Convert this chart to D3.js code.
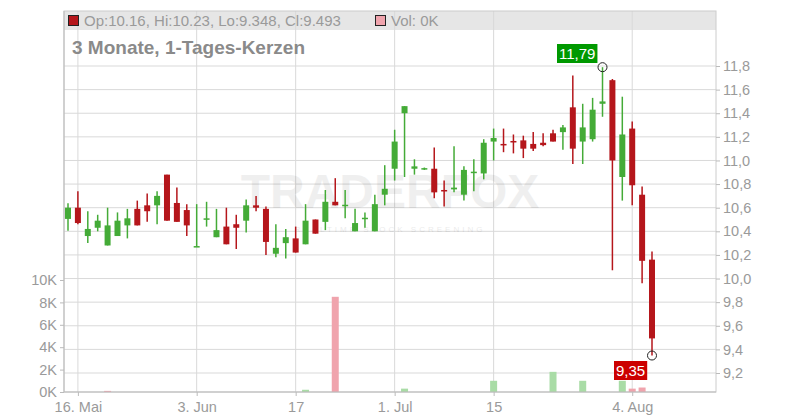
<!DOCTYPE html>
<html><head><meta charset="utf-8">
<script src="https://cdn.jsdelivr.net/npm/d3@7"></script>
<style>body{margin:0;background:#fff}text{font-family:"Liberation Sans",Arial,sans-serif}</style>
</head><body><svg id="c" width="800" height="420"></svg>
<script>
const opens  = [10.505,10.60,10.36,10.43,10.28,10.36,10.45,10.59,10.62,10.62,10.88,10.64,10.58,10.27,10.50,10.35,10.44,10.46,10.49,10.62,10.59,10.21,10.30,10.34,10.29,10.50,10.48,10.65,10.62,10.40,10.51,10.40,10.71,10.93,11.40,10.93,10.93,10.93,10.75,10.755,10.71,10.90,10.89,11.16,11.14,11.165,11.17,11.14,11.15,11.23,11.24,11.45,11.16,11.18,11.48,11.68,10.86,11.27,10.71,10.16];
const highs  = [10.637,10.74,10.57,10.54,10.60,10.56,10.59,10.66,10.72,10.74,10.88,10.77,10.63,10.63,10.65,10.59,10.60,10.54,10.67,10.70,10.61,10.46,10.42,10.44,10.63,10.50,10.75,10.85,10.75,10.59,10.56,10.71,10.96,11.26,11.46,11.01,10.94,11.11,10.83,11.12,10.95,11.01,11.18,11.27,11.27,11.22,11.21,11.24,11.23,11.26,11.30,11.72,11.48,11.53,11.79,11.69,11.54,11.33,10.78,10.23];
const lows   = [10.405,10.46,10.30,10.40,10.28,10.36,10.34,10.45,10.48,10.46,10.49,10.48,10.36,10.27,10.44,10.35,10.29,10.25,10.39,10.57,10.20,10.18,10.17,10.22,10.29,10.38,10.41,10.62,10.51,10.40,10.43,10.40,10.62,10.83,10.86,10.88,10.92,10.68,10.61,10.73,10.66,10.74,10.84,11.00,11.07,11.06,11.02,11.08,11.12,11.16,11.09,10.97,10.97,11.16,11.37,10.07,10.66,10.62,9.96,9.348];
const closes = [10.60,10.47,10.42,10.49,10.45,10.49,10.51,10.45,10.57,10.70,10.49,10.48,10.45,10.275,10.51,10.41,10.29,10.43,10.62,10.60,10.31,10.26,10.35,10.22,10.49,10.38,10.65,10.62,10.625,10.47,10.515,10.63,10.76,11.16,11.46,10.95,10.935,10.73,10.74,10.77,10.92,10.905,11.15,11.19,11.13,11.155,11.10,11.10,11.13,11.16,11.28,11.10,11.28,11.43,11.50,11.00,11.22,10.79,10.15,9.493];
const volumes = [0,0,0,0,0.1,0,0,0,0,0,0,0,0,0,0,0,0,0,0,0,0,0,0,0,0.2,0,0,8.5,0,0,0,0,0,0,0.3,0,0,0,0,0,0,0,0,1.0,0,0,0,0,0,1.8,0,0,1.0,0,0,0,1.0,0.3,0.4,0];
const xTickIdx = [1,13,23,33,43,57];
const xTickLabels = ["16. Mai","3. Jun","17","1. Jul","15","4. Aug"];
const priceTicks = [9.2,9.4,9.6,9.8,10.0,10.2,10.4,10.6,10.8,11.0,11.2,11.4,11.6,11.8];
const volTicks = [0,2,4,6,8,10];

const svg = d3.select("#c");
const L=64,R=716,T=11,B=392;
const x = d3.scaleLinear().domain([0,59]).range([68,652]);
const y = d3.scaleLinear().domain([9.2,11.8]).range([373,66]);
const yv = d3.scaleLinear().domain([0,10]).range([392,280]);
const GREEN="#44ab37", RED="#b5161b", grid="#d9d9d9", txt="#9a9a9a";

svg.append("rect").attr("x",L).attr("y",T).attr("width",R-L).attr("height",19).attr("fill","#e6e6e6");
svg.append("g").selectAll("line").data(priceTicks).join("line")
 .attr("x1",L).attr("x2",R).attr("y1",d=>y(d)).attr("y2",d=>y(d)).attr("stroke",grid);
svg.append("g").selectAll("line").data(xTickIdx).join("line")
 .attr("x1",d=>x(d)).attr("x2",d=>x(d)).attr("y1",T).attr("y2",B).attr("stroke",grid);
svg.append("rect").attr("x",L).attr("y",T).attr("width",R-L).attr("height",B-T).attr("fill","none").attr("stroke","#cccccc");

// watermark
svg.append("text").attr("x",390).attr("y",208).attr("text-anchor","middle").attr("font-size",48).attr("font-weight","bold")
 .attr("fill","#000").attr("opacity",0.06).text("TRADERFOX");
svg.append("text").attr("x",390).attr("y",232).attr("text-anchor","middle").attr("font-size",8).attr("letter-spacing",3)
 .attr("fill","#000").attr("opacity",0.08).text("REALTIME STOCK SCREENING");

const vd = volumes.map((v,i)=>({v,i})).filter(d=>d.v>0);
svg.append("g").selectAll("rect").data(vd).join("rect")
 .attr("x",d=>x(d.i)-3.5).attr("width",7).attr("y",d=>yv(d.v)).attr("height",d=>yv(0)-yv(d.v))
 .attr("fill",d=>(d.i>0&&closes[d.i]<closes[d.i-1])?"#f0a4ad":"#a9dca6");

const cd = opens.map((o,i)=>({i,o,h:highs[i],l:lows[i],c:closes[i]}));
const g = svg.append("g");
g.selectAll("line").data(cd).join("line")
 .attr("x1",d=>x(d.i)).attr("x2",d=>x(d.i)).attr("y1",d=>y(d.h)).attr("y2",d=>y(d.l))
 .attr("stroke",d=>d.c>=d.o?GREEN:RED).attr("stroke-width",1.5);
g.selectAll("rect").data(cd).join("rect")
 .attr("x",d=>x(d.i)-3).attr("width",6)
 .attr("y",d=>y(Math.max(d.o,d.c))).attr("height",d=>Math.max(1.5,Math.abs(y(d.o)-y(d.c))))
 .attr("fill",d=>d.c>=d.o?GREEN:RED);

const ra = svg.append("g").attr("transform",`translate(${R},0)`)
 .call(d3.axisRight(y).tickValues(priceTicks).tickSize(4).tickFormat(d=>d3.format(".1f")(d).replace(".",",")));
const la = svg.append("g").attr("transform",`translate(${L},0)`)
 .call(d3.axisLeft(yv).tickValues(volTicks).tickSize(4).tickFormat(d=>d+"K"));
const ba = svg.append("g").attr("transform",`translate(0,${B})`)
 .call(d3.axisBottom(x).tickValues(xTickIdx).tickSize(4).tickFormat((d,i)=>xTickLabels[i]));
[ra,la,ba].forEach(a=>{a.select(".domain").remove();a.selectAll("line").attr("stroke","#bbb");
 a.selectAll("text").attr("fill",txt).attr("font-size",14.5).attr("font-family","Liberation Sans, Arial");});
ba.selectAll("text").attr("dy","0.9em");
svg.append("line").attr("x1",L).attr("x2",R).attr("y1",B).attr("y2",B).attr("stroke","#bbb");
svg.append("line").attr("x1",L).attr("x2",L).attr("y1",T).attr("y2",B).attr("stroke","#bbb");

svg.append("rect").attr("x",68.5).attr("y",15.5).attr("width",10).attr("height",10).attr("fill",RED).attr("stroke","#222");
svg.append("text").attr("x",84).attr("y",26).attr("font-size",15).attr("fill",txt)
 .text(`Op:${opens[59]}, Hi:${highs[59]}, Lo:${lows[59]}, Cl:${closes[59]}`);
svg.append("rect").attr("x",375.5).attr("y",15.5).attr("width",10).attr("height",10).attr("fill","#f0a4ad").attr("stroke","#222");
svg.append("text").attr("x",391).attr("y",26).attr("font-size",15).attr("fill",txt).text(`Vol: ${volumes[59]}K`);
svg.append("text").attr("x",72).attr("y",54).attr("font-size",19).attr("font-weight","bold").attr("fill","#8a8a8a").text("3 Monate, 1-Tages-Kerzen");

function marker(i,v,label,col,lx,ly){
  svg.append("circle").attr("cx",x(i)).attr("cy",y(v)).attr("r",4.5).attr("fill","none").attr("stroke","#222");
  const mg = svg.append("g");
  const r = mg.append("rect").attr("fill",col);
  const t = mg.append("text").attr("x",lx).attr("y",ly).attr("font-size",15).attr("fill","#fff").text(label);
  const bb=t.node().getBBox();
  r.attr("x",bb.x-2).attr("y",bb.y-1).attr("width",bb.width+4).attr("height",bb.height+2);
}
marker(54,11.79,"11,79","#009900",559,59);
marker(59,9.348,"9,35","#cc0000",616,376);
</script></body></html>
